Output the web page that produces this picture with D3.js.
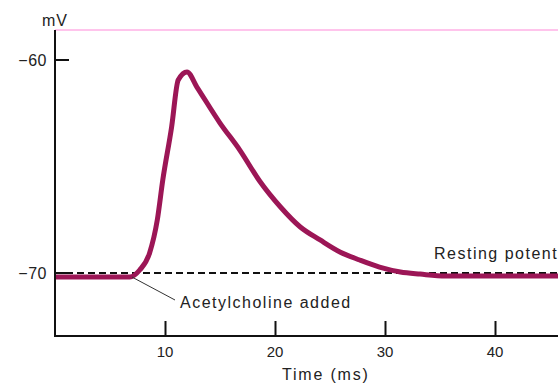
<!DOCTYPE html>
<html>
<head>
<meta charset="utf-8">
<script src="https://cdn.jsdelivr.net/npm/d3@7"></script>
<style>
  body { margin: 0; background: #fff; overflow: hidden; }
  text { font-family: 'Liberation Sans', Arial, sans-serif; fill: #222; }
</style>
</head>
<body>
<script>
// membrane potential trace (ms, mV)
const timeMs = [0, 6.8, 7.7, 8.6, 9.3, 9.8, 10.6, 11.2, 12.0, 12.9, 15.0, 16.8, 18.6,
  20.5, 22.3, 24.1, 25.9, 27.7, 29.5, 31.4, 33.2, 35.5, 46]
const potential = [-70.19, -70.19, -69.86, -69.06, -67.51, -65.63, -63.15, -60.94, -60.56,
  -61.27, -62.96, -64.23, -65.68, -66.9, -67.84, -68.45, -69.01, -69.39, -69.72, -69.95,
  -70.05, -70.14, -70.14]
const xTicks = [10, 20, 30, 40]
const yTicks = [-60, -70]
const restingMv = -70
const addedAt = [7.0, -70.19]

const width = 558
const height = 385
const marginLeft = 55, plotTop = 30, plotBottom = 336

const x = d3.scaleLinear().domain([0, 10]).range([marginLeft, marginLeft + 110])
const y = d3.scaleLinear().domain([-60, -70]).range([60, 273])

const svg = d3.select('body').append('svg')
  .attr('width', width)
  .attr('height', height)

// pale pink top border
svg.append('line')
  .attr('x1', marginLeft).attr('x2', width)
  .attr('y1', plotTop).attr('y2', plotTop)
  .style('stroke', '#ffc4ec')
  .style('stroke-width', 2)

// resting potential dashed line
svg.append('line')
  .attr('x1', marginLeft).attr('x2', width)
  .attr('y1', y(restingMv)).attr('y2', y(restingMv))
  .style('stroke', '#111')
  .style('stroke-width', 2)
  .style('stroke-dasharray', '7,4')

const line = d3.line()
  .x((d, i) => x(timeMs[i]))
  .y(d => y(d))
  .curve(d3.curveMonotoneX)

svg.append('path')
  .datum(potential)
  .attr('d', line)
  .style('fill', 'none')
  .style('stroke', '#9c1656')
  .style('stroke-width', 5)
  .style('stroke-linejoin', 'round')

// axes
const xAxis = d3.axisTop(x).tickValues(xTicks).tickSize(15).tickFormat('')
svg.append('g')
  .attr('transform', `translate(0,${plotBottom})`)
  .call(xAxis)
  .call(g => g.select('.domain').remove())
  .selectAll('line').style('stroke', '#111').style('stroke-width', 2)

svg.append('line')
  .attr('x1', marginLeft - 1).attr('x2', width)
  .attr('y1', plotBottom).attr('y2', plotBottom)
  .style('stroke', '#111').style('stroke-width', 2)

svg.append('line')
  .attr('x1', marginLeft).attr('x2', marginLeft)
  .attr('y1', plotTop).attr('y2', plotBottom + 1)
  .style('stroke', '#111').style('stroke-width', 2)

svg.selectAll('.ytick')
  .data(yTicks)
  .enter().append('line')
  .attr('x1', marginLeft).attr('x2', marginLeft + 14)
  .attr('y1', d => y(d)).attr('y2', d => y(d))
  .style('stroke', '#111').style('stroke-width', 2)

svg.selectAll('.ylab')
  .data(yTicks)
  .enter().append('text')
  .attr('x', 47)
  .attr('y', d => y(d) + 6)
  .attr('text-anchor', 'end')
  .style('font-size', '16px')
  .style('letter-spacing', '0.5px')
  .text(d => '\u2212' + Math.abs(d))

svg.selectAll('.xlab')
  .data(xTicks)
  .enter().append('text')
  .attr('x', d => x(d))
  .attr('y', 357)
  .attr('text-anchor', 'middle')
  .style('font-size', '15px')
  .text(d => d)

svg.append('text')
  .attr('x', 55).attr('y', 26)
  .attr('text-anchor', 'middle')
  .style('font-size', '16px')
  .style('letter-spacing', '1px')
  .text('mV')

svg.append('text')
  .attr('x', 282).attr('y', 380)
  .style('font-size', '16px')
  .style('letter-spacing', '1.8px')
  .text('Time (ms)')

// annotations
svg.append('line')
  .attr('x1', x(addedAt[0])).attr('y1', y(addedAt[1]))
  .attr('x2', 175).attr('y2', 300)
  .style('stroke', '#333').style('stroke-width', 1)

svg.append('text')
  .attr('x', 180).attr('y', 308)
  .style('font-size', '16px')
  .style('letter-spacing', '1.5px')
  .text('Acetylcholine added')

svg.append('text')
  .attr('x', 434).attr('y', 259)
  .style('font-size', '16px')
  .style('letter-spacing', '1.5px')
  .text('Resting potential')
</script>
</body>
</html>
